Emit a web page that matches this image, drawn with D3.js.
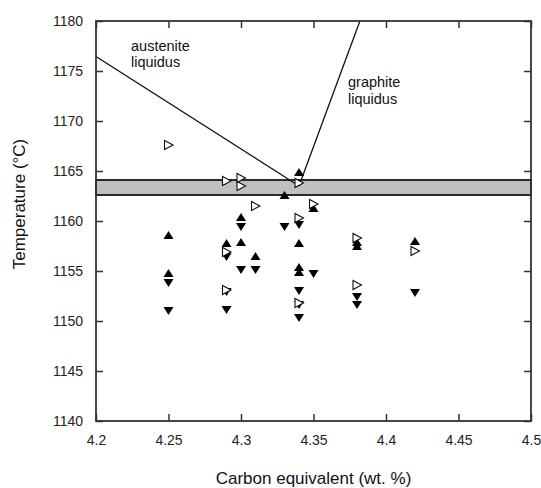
<!DOCTYPE html>
<html>
<head>
<meta charset="utf-8">
<script src="https://cdn.jsdelivr.net/npm/d3@7"></script>
<style>
  html, body { margin: 0; padding: 0; background: #fff; }
  svg { display: block; font-family: "Liberation Sans", Arial, sans-serif; }
</style>
</head>
<body>
<svg id="chart" width="541" height="488"></svg>
<script>
// Axis ticks
const xTicks = [4.2, 4.25, 4.3, 4.35, 4.4, 4.45, 4.5];
const yTicks = [1140, 1145, 1150, 1155, 1160, 1165, 1170, 1175, 1180];

// Eutectic temperature band (°C)
const bandRange = [1162.6, 1164.1];

// Liquidus lines [CE, T]
const austeniteLiquidus = [[4.2, 1176.45], [4.34, 1163.5]];
const graphiteLiquidus = [[4.34, 1163.5], [4.382, 1180]];

// Filled up-triangles [CE, T]
const upPoints = [
  [4.25, 1158.6], [4.25, 1154.8], [4.29, 1157.8], [4.30, 1160.4], [4.30, 1157.9],
  [4.31, 1156.5], [4.33, 1162.6], [4.34, 1164.9], [4.34, 1157.8], [4.34, 1155.4],
  [4.34, 1154.9], [4.35, 1161.3], [4.38, 1157.9], [4.38, 1157.5], [4.42, 1158.0]
];

// Filled down-triangles [CE, T]
const downPoints = [
  [4.25, 1153.8], [4.25, 1151.0], [4.29, 1156.4], [4.29, 1152.9], [4.29, 1151.1],
  [4.30, 1159.4], [4.30, 1155.1], [4.31, 1155.1], [4.33, 1159.4], [4.34, 1159.6],
  [4.34, 1153.0], [4.34, 1151.6], [4.34, 1150.3], [4.35, 1154.7], [4.38, 1152.4],
  [4.38, 1151.6], [4.42, 1152.8]
];

// Open right-pointing triangles [CE, T]
const rightPoints = [
  [4.25, 1167.6], [4.29, 1164.0], [4.30, 1164.3], [4.30, 1163.5], [4.31, 1161.5],
  [4.34, 1163.8], [4.34, 1160.3], [4.35, 1161.7], [4.29, 1156.9], [4.29, 1153.1],
  [4.34, 1151.8], [4.38, 1158.3], [4.38, 1153.6], [4.42, 1157.0]
];

const svg = d3.select("#chart");
const mLeft = 96, mRight = 531, mTop = 21, mBottom = 421;

const x = d3.scaleLinear().domain([4.2, 4.5]).range([mLeft, mRight]);
const y = d3.scaleLinear().domain([1140, 1180]).range([mBottom, mTop]);

const fmt = d => String(+d.toFixed(2));
const axisColor = "#333";

// Axes with inward ticks
const gB = svg.append("g").attr("transform", `translate(0,${mBottom})`)
  .call(d3.axisBottom(x).tickValues(xTicks).tickFormat(fmt).tickSize(-7).tickPadding(14));
const gL = svg.append("g").attr("transform", `translate(${mLeft},0)`)
  .call(d3.axisLeft(y).tickValues(yTicks).tickFormat(fmt).tickSize(-7).tickPadding(13));
const gT = svg.append("g").attr("transform", `translate(0,${mTop})`)
  .call(d3.axisTop(x).tickValues(xTicks).tickFormat("").tickSize(-7));
const gR = svg.append("g").attr("transform", `translate(${mRight},0)`)
  .call(d3.axisRight(y).tickValues(yTicks).tickFormat("").tickSize(-7));

[gB, gL, gT, gR].forEach(g => {
  g.select(".domain").remove();
  g.selectAll(".tick line").attr("stroke", axisColor).attr("stroke-width", 1.5);
  g.selectAll(".tick text").attr("fill", "#222").style("font-size", "14px")
    .style("font-family", "Liberation Sans, Arial, sans-serif");
});

// Eutectic band
svg.append("rect")
  .attr("x", x(4.2)).attr("width", x(4.5) - x(4.2))
  .attr("y", y(bandRange[1])).attr("height", y(bandRange[0]) - y(bandRange[1]))
  .attr("fill", "#c0c0c0").attr("stroke", "#2a2a2a").attr("stroke-width", 2);

// Liquidus lines
const line = d3.line().x(d => x(d[0])).y(d => y(d[1]));
svg.append("defs").append("clipPath").attr("id", "plotClip")
  .append("rect").attr("x", mLeft).attr("y", mTop).attr("width", mRight - mLeft).attr("height", mBottom - mTop);
[austeniteLiquidus, graphiteLiquidus].forEach(pts => {
  svg.append("path").datum(pts).attr("d", line)
    .attr("fill", "none").attr("stroke", "#111").attr("stroke-width", 1.3)
    .attr("clip-path", "url(#plotClip)");
});

// Frame
svg.append("rect").attr("x", mLeft).attr("y", mTop)
  .attr("width", mRight - mLeft).attr("height", mBottom - mTop)
  .attr("fill", "none").attr("stroke", axisColor).attr("stroke-width", 1.8);

// Marker shapes
const upPath = "M0,-4L5,4L-5,4Z";
const downPath = "M0,4L5,-4L-5,-4Z";
const rightPath = "M4.5,0L-4,-4.5L-4,4.5Z";

svg.append("g").selectAll("path").data(upPoints).join("path")
  .attr("d", upPath).attr("transform", d => `translate(${x(d[0])},${y(d[1])})`)
  .attr("fill", "#000");
svg.append("g").selectAll("path").data(downPoints).join("path")
  .attr("d", downPath).attr("transform", d => `translate(${x(d[0])},${y(d[1])})`)
  .attr("fill", "#000");
svg.append("g").selectAll("path").data(rightPoints).join("path")
  .attr("d", rightPath).attr("transform", d => `translate(${x(d[0])},${y(d[1])})`)
  .attr("fill", "#fff").attr("stroke", "#111").attr("stroke-width", 1.1);

// Annotations
const ann = svg.append("g").attr("fill", "#111").style("font-size", "14.5px");
ann.append("text").attr("x", 131).attr("y", 51).text("austenite");
ann.append("text").attr("x", 131).attr("y", 67).text("liquidus");
ann.append("text").attr("x", 348).attr("y", 87).text("graphite");
ann.append("text").attr("x", 348).attr("y", 104).text("liquidus");

// Axis titles
svg.append("text").attr("x", (mLeft + mRight) / 2).attr("y", 484)
  .attr("text-anchor", "middle").attr("fill", "#111").style("font-size", "17px")
  .text("Carbon equivalent (wt. %)");
svg.append("text").attr("transform", "translate(25,204) rotate(-90)")
  .attr("text-anchor", "middle").attr("fill", "#111").style("font-size", "17px")
  .text("Temperature (°C)");
</script>
</body>
</html>
